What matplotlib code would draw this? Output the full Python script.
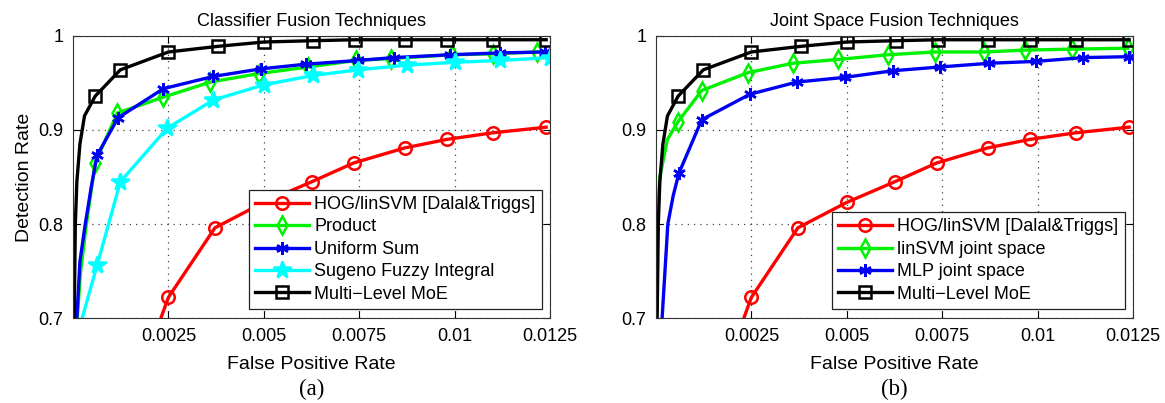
import numpy as np
from matplotlib import pyplot as plt

# False positive rate / detection rate pairs for each method.
# The first few entries of some curves only shape the steep rise (no marker).
hog_fpr = [0.0019, 0.0025, 0.00372, 0.005, 0.00626, 0.00736, 0.0087, 0.0098, 0.011, 0.0124]
hog_dr = [0.655, 0.722, 0.796, 0.823, 0.845, 0.865, 0.881, 0.890, 0.897, 0.903]
hog_marks = slice(1, None)

moe_fpr = [0.00003, 0.00006, 0.0001, 0.00018, 0.0003, 0.00058, 0.00124, 0.0025, 0.0038, 0.005, 0.0063, 0.0074, 0.0087, 0.0098, 0.011, 0.0124]
moe_dr = [0.70, 0.80, 0.845, 0.885, 0.915, 0.936, 0.964, 0.983, 0.989, 0.9936, 0.995, 0.996, 0.996, 0.996, 0.996, 0.996]
moe_marks = slice(5, None)

# (a) classifier fusion
prod_fpr = [0.00011, 0.0002, 0.00035, 0.00058, 0.00116, 0.00237, 0.0036, 0.00487, 0.00616, 0.00742, 0.00834, 0.00992, 0.0110, 0.01216]
prod_dr = [0.70, 0.75, 0.80, 0.865, 0.918, 0.935, 0.951, 0.960, 0.967, 0.974, 0.976, 0.980, 0.981, 0.983]
prod_marks = slice(3, None)

usum_fpr = [0.0001, 0.00018, 0.00032, 0.00048, 0.00063, 0.00118, 0.00237, 0.00368, 0.00492, 0.0061, 0.00747, 0.0084, 0.00987, 0.0112, 0.01237]
usum_dr = [0.70, 0.76, 0.80, 0.84, 0.873, 0.913, 0.944, 0.957, 0.965, 0.970, 0.974, 0.977, 0.980, 0.982, 0.983]
usum_marks = slice(4, None)

sugeno_fpr = [0.00024, 0.00063, 0.00124, 0.00247, 0.00368, 0.005, 0.00629, 0.00747, 0.00874, 0.01, 0.0112, 0.0125]
sugeno_dr = [0.70, 0.756, 0.845, 0.902, 0.932, 0.948, 0.958, 0.964, 0.969, 0.972, 0.974, 0.977]
sugeno_marks = slice(1, None)

# (b) joint space fusion
jsvm_fpr = [0.00003, 0.0001, 0.0003, 0.00058, 0.0012, 0.00241, 0.00359, 0.00476, 0.00607, 0.0073, 0.0086, 0.00966, 0.0109, 0.01236]
jsvm_dr = [0.80, 0.85, 0.89, 0.909, 0.942, 0.961, 0.971, 0.975, 0.980, 0.983, 0.983, 0.985, 0.986, 0.987]
jsvm_marks = slice(3, None)

mlp_fpr = [0.00016, 0.00031, 0.00045, 0.0006, 0.0012, 0.00246, 0.00369, 0.00495, 0.0062, 0.00743, 0.00874, 0.00997, 0.0112, 0.0124]
mlp_dr = [0.70, 0.80, 0.83, 0.854, 0.911, 0.938, 0.951, 0.956, 0.963, 0.967, 0.971, 0.973, 0.977, 0.978]
mlp_marks = slice(3, None)

xticks = [0.0025, 0.005, 0.0075, 0.01, 0.0125]
xticklabels = ["0.0025", "0.005", "0.0075", "0.01", "0.0125"]
yticks = [0.7, 0.8, 0.9, 1.0]
yticklabels = ["0.7", "0.8", "0.9", "1"]

plt.rcParams['font.family'] = ['Liberation Sans', 'DejaVu Sans']
plt.rcParams['font.size'] = 13

RED = (1, 0, 0)
GREEN = (0, 0.95, 0)
BLUE = (0, 0, 0.95)
CYAN = (0, 1, 1)
ASTERISK = (6, 2, 0)


def curva(ax, x, y, cor, marcador, rotulo, marcas, ms=9, face='none'):
    ax.plot(x, y, color=cor, lw=2.4, marker=marcador, markersize=ms,
            markerfacecolor=face, markeredgecolor=cor, markeredgewidth=1.8,
            markevery=marcas, label=rotulo)


def eixo(ax, titulo, letra):
    ax.set_xlim(0, 0.0125)
    ax.set_ylim(0.7, 1.0)
    ax.set_xticks(xticks)
    ax.set_xticklabels(xticklabels)
    ax.set_yticks(yticks)
    ax.set_yticklabels(yticklabels)
    ax.tick_params(direction='in', top=True, right=True, length=5, labelsize=13, pad=7)
    ax.grid(True, linestyle=(0, (1, 4)), color='#444444', linewidth=0.9)
    for s in ax.spines.values():
        s.set_color('#333333')
        s.set_linewidth(0.8)
    ax.set_title(titulo, fontsize=13, pad=7)
    ax.set_xlabel("False Positive Rate", fontsize=14, labelpad=8)
    ax.text(0.5, -0.255, letra, transform=ax.transAxes, ha='center', va='center',
            fontsize=16.5, family='Liberation Serif')


fig = plt.figure(figsize=(11.65, 4.03), dpi=100)
axA = fig.add_axes([0.0627, 0.2109, 0.4094, 0.6998])
axB = fig.add_axes([0.5631, 0.2109, 0.4094, 0.6998])

curva(axA, hog_fpr, hog_dr, RED, 'o', "HOG/linSVM [Dalal&Triggs]", hog_marks)
curva(axA, prod_fpr, prod_dr, GREEN, 'd', "Product", prod_marks)
curva(axA, usum_fpr, usum_dr, BLUE, ASTERISK, "Uniform Sum", usum_marks, ms=9, face=BLUE)
curva(axA, sugeno_fpr, sugeno_dr, CYAN, '*', "Sugeno Fuzzy Integral", sugeno_marks, ms=13, face=CYAN)
curva(axA, moe_fpr, moe_dr, 'black', 's', "Multi\u2212Level MoE", moe_marks, ms=8)
eixo(axA, "Classifier Fusion Techniques", "(a)")
axA.set_ylabel("Detection Rate", fontsize=14, labelpad=4)

curva(axB, hog_fpr, hog_dr, RED, 'o', "HOG/linSVM [Dalal&Triggs]", hog_marks)
curva(axB, jsvm_fpr, jsvm_dr, GREEN, 'd', "linSVM joint space", jsvm_marks)
curva(axB, mlp_fpr, mlp_dr, BLUE, ASTERISK, "MLP joint space", mlp_marks, ms=9, face=BLUE)
curva(axB, moe_fpr, moe_dr, 'black', 's', "Multi\u2212Level MoE", moe_marks, ms=8)
eixo(axB, "Joint Space Fusion Techniques", "(b)")

for ax in (axA, axB):
    leg = ax.legend(loc='lower right', bbox_to_anchor=(0.983, 0.032), fontsize=13,
                    handlelength=3.0, handletextpad=0.3, labelspacing=0.3,
                    borderpad=0.35, borderaxespad=0, fancybox=False, framealpha=1,
                    edgecolor='#222222')
    leg.get_frame().set_linewidth(0.9)

fig.savefig("out.png", dpi=100)
